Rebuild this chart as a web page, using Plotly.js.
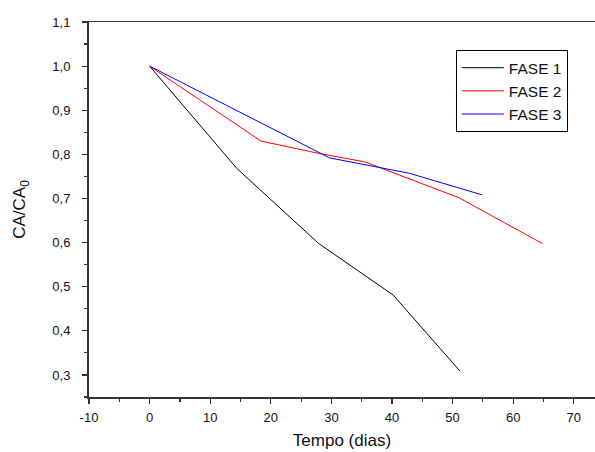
<!DOCTYPE html>
<html><head><meta charset="utf-8">
<script src="https://cdn.plot.ly/plotly-3.0.1.min.js"></script>
<style>html,body{margin:0;padding:0;background:#fff}</style>
</head><body><div id="chart" style="width:595px;height:452px"></div>
<script>
const fase1X = [0, 14.4, 27.9, 40.2, 51.2];
const fase1Y = [1.0, 0.768, 0.598, 0.481, 0.309];
const fase2X = [0, 18.4, 28, 35.5, 51.0, 64.8];
const fase2Y = [1.0, 0.830, 0.802, 0.783, 0.702, 0.598];
const fase3X = [0, 29.7, 42.9, 54.9];
const fase3Y = [1.0, 0.792, 0.757, 0.708];
const seriesNames = ["FASE 1", "FASE 2", "FASE 3"];
const xTickVals = [-10, 0, 10, 20, 30, 40, 50, 60, 70];
const xTickText = ["-10", "0", "10", "20", "30", "40", "50", "60", "70"];
const yTickVals = [0.3, 0.4, 0.5, 0.6, 0.7, 0.8, 0.9, 1.0, 1.1];

const font = {family: "Liberation Sans, Arial, sans-serif", color: "#111"};
const traces = [
  {x: fase1X, y: fase1Y, name: seriesNames[0], mode: "lines", line: {color: "#000000", width: 1}},
  {x: fase2X, y: fase2Y, name: seriesNames[1], mode: "lines", line: {color: "#ff0000", width: 1}},
  {x: fase3X, y: fase3Y, name: seriesNames[2], mode: "lines", line: {color: "#0000ff", width: 1}}
];
const layout = {
  width: 595, height: 452,
  margin: {l: 89, r: 0, t: 22, b: 55},
  paper_bgcolor: "#fff", plot_bgcolor: "#fff",
  separators: ",.",
  font: Object.assign({size: 13}, font),
  showlegend: true,
  legend: {x: 0.725, y: 0.925, xanchor: "left", yanchor: "top",
    bgcolor: "#fff", bordercolor: "#000", borderwidth: 1,
    font: Object.assign({size: 15.5}, font), tracegroupgap: 0, itemwidth: 42},
  xaxis: {
    range: [-10, 73.5], tickvals: xTickVals, ticktext: xTickText, ticks: "outside", ticklen: 5, tickwidth: 1.2,
    tickcolor: "#333", showline: true, linecolor: "#333", linewidth: 1.5, mirror: true,
    showgrid: false, zeroline: false, ticklabelstandoff: 3,
    minor: {dtick: 5, tick0: -5, ticks: "outside", ticklen: 3, tickcolor: "#333", showgrid: false},
    tickfont: Object.assign({size: 13}, font),
    title: {text: "Tempo (dias)", font: Object.assign({size: 17}, font), standoff: 10}
  },
  yaxis: {
    range: [0.25, 1.1], tickvals: yTickVals, tickformat: ".1f", ticks: "outside", ticklen: 5,
    tickwidth: 1.2, tickcolor: "#333", showline: true, linecolor: "#333", linewidth: 2,
    mirror: false, showgrid: false, zeroline: false, ticklabelstandoff: 9,
    minor: {dtick: 0.05, tick0: 0.25, ticks: "outside", ticklen: 3, tickcolor: "#333", showgrid: false},
    tickfont: Object.assign({size: 13}, font),
    title: {text: "CA/CA<sub>0</sub>", font: Object.assign({size: 17}, font), standoff: 22}
  }
};
Plotly.newPlot("chart", traces, layout, {displayModeBar: false, staticPlot: true});
</script></body></html>
